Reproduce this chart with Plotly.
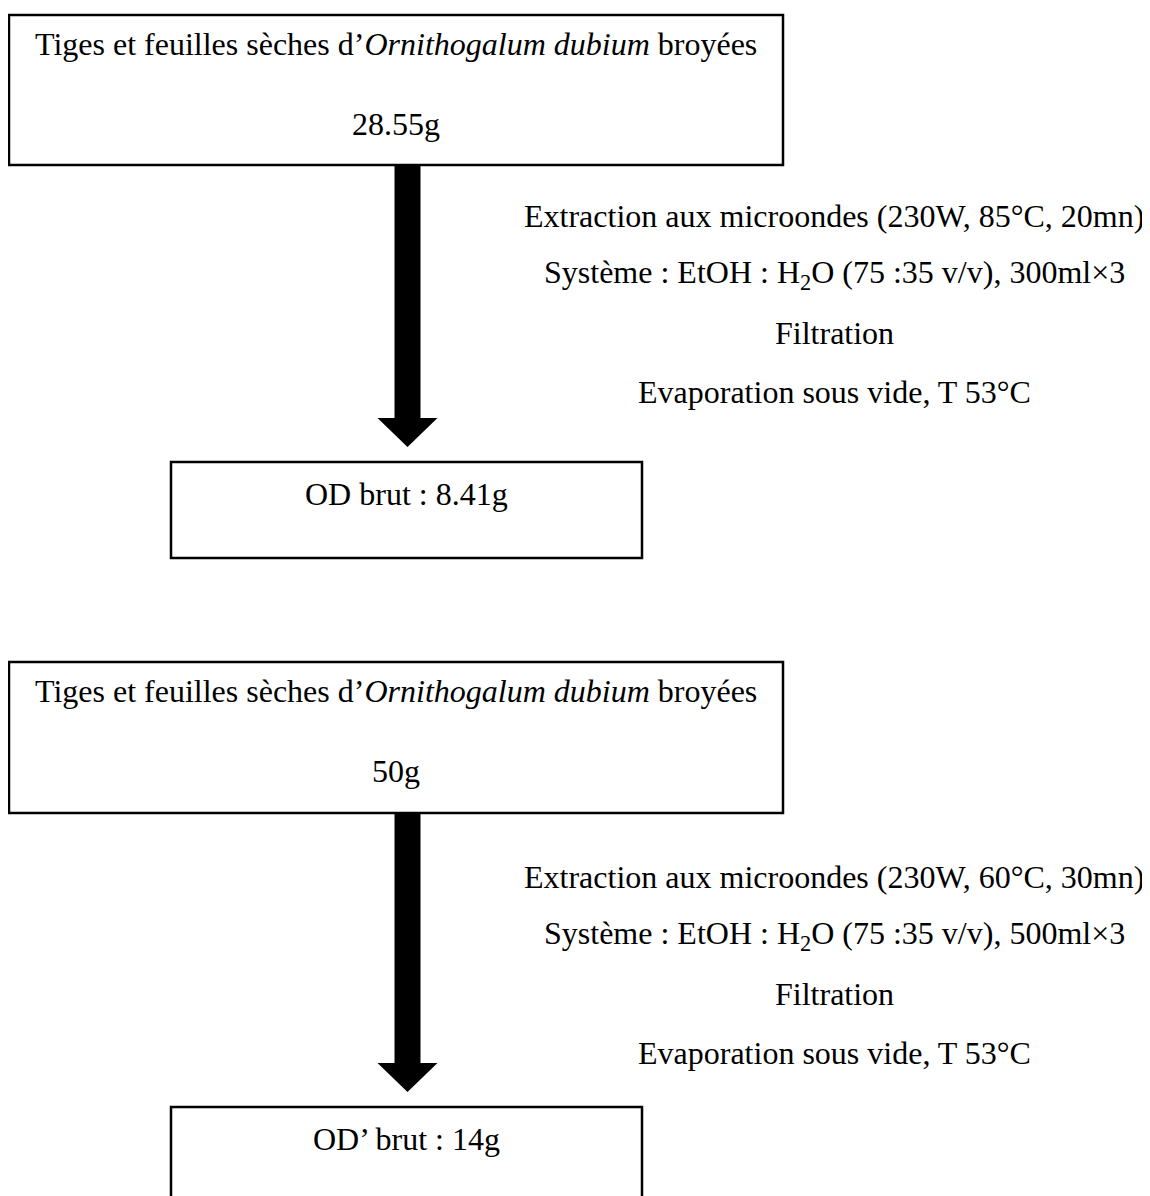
import plotly.graph_objects as go

# ---- content (text) ----
start_labels = [
    "Tiges et feuilles sèches d’<i>Ornithogalum dubium</i> broyées",
    "Tiges et feuilles sèches d’<i>Ornithogalum dubium</i> broyées",
]
start_masses = ["28.55g", "50g"]
product_labels = ["OD brut : 8.41g", "OD’ brut : 14g"]
step_texts = [
    ["Extraction aux microondes (230W, 85°C, 20mn)",
     "Système : EtOH : H<sub>2</sub>O (75 :35 v/v), 300ml×3",
     "Filtration",
     "Evaporation sous vide, T 53°C"],
    ["Extraction aux microondes (230W, 60°C, 30mn)",
     "Système : EtOH : H<sub>2</sub>O (75 :35 v/v), 500ml×3",
     "Filtration",
     "Evaporation sous vide, T 53°C"],
]

# ---- layout geometry (page pixels, y downwards) ----
W, H = 1150, 1196
OFF = 8  # default page margin of the html body
top_box = [(9, 15, 783, 165), (9, 662, 783, 813)]
bot_box = [(171, 462, 642, 558), (171, 1107, 642, 1203)]
arrow_x = 407.5
shaft_half = 13
head_half = 30
head_h = 29
step_x = 834
step_y0 = [216, 877]
step_dy = 58.5

FONT = "Liberation Serif"
FS = 32

fig = go.Figure()
shapes = []
annotations = []

for i in range(2):
    x0, y0, x1, y1 = top_box[i]
    shapes.append(dict(type="rect", x0=x0, y0=y0, x1=x1, y1=y1,
                       line=dict(color="black", width=2.5), fillcolor="rgba(0,0,0,0)"))
    bx0, by0, bx1, by1 = bot_box[i]
    shapes.append(dict(type="rect", x0=bx0, y0=by0, x1=bx1, y1=by1,
                       line=dict(color="black", width=2.5), fillcolor="rgba(0,0,0,0)"))
    head_base = by0 - 44
    tip = head_base + head_h
    shapes.append(dict(type="rect", x0=arrow_x - shaft_half, x1=arrow_x + shaft_half,
                       y0=y1, y1=head_base, line=dict(width=0), fillcolor="black"))
    shapes.append(dict(type="path",
                       path=f"M {arrow_x-head_half},{head_base} L {arrow_x+head_half},{head_base} L {arrow_x},{tip} Z",
                       line=dict(width=0), fillcolor="black"))
    cx = (x0 + x1) / 2
    annotations.append(dict(x=cx, y=y0 + 29, text=start_labels[i]))
    annotations.append(dict(x=cx, y=y0 + 109, text=start_masses[i]))
    annotations.append(dict(x=(bx0 + bx1) / 2, y=by0 + 32, text=product_labels[i]))
    for j, t in enumerate(step_texts[i]):
        annotations.append(dict(x=step_x, y=step_y0[i] + j * step_dy, text=t))

for a in annotations:
    a.update(xref="x", yref="y", showarrow=False, xanchor="center", yanchor="middle",
             font=dict(family=FONT, size=FS, color="black"))

fig.update_layout(
    width=W, height=H, margin=dict(l=0, r=0, t=0, b=0),
    paper_bgcolor="white", plot_bgcolor="white",
    xaxis=dict(range=[OFF, W + OFF], visible=False, fixedrange=True),
    yaxis=dict(range=[H + OFF, OFF], visible=False, fixedrange=True),
    shapes=shapes, annotations=annotations, showlegend=False,
)
fig.write_html("out.html")
